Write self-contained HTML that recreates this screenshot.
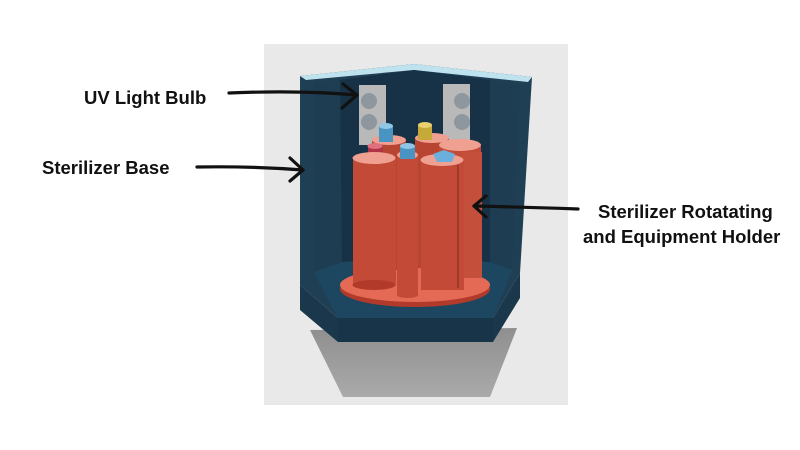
<!DOCTYPE html>
<html><head><meta charset="utf-8"><style>
html,body{margin:0;padding:0;background:#fff;width:800px;height:450px;overflow:hidden}
svg{display:block}
text{font-family:"Liberation Sans",sans-serif;font-weight:bold;fill:#111}
</style></head><body>
<svg width="800" height="450" viewBox="0 0 800 450">
<defs><linearGradient id="sh" x1="0" y1="0" x2="0" y2="1"><stop offset="0" stop-color="#8f8f8f"/><stop offset="1" stop-color="#aaaaaa"/></linearGradient></defs>
<rect x="264" y="44" width="304" height="361" fill="#e9e9e9"/>
<!-- shadow -->
<polygon points="310,330 517,328 490,397 343,397" fill="url(#sh)"/>
<!-- container outer -->
<polygon points="300,76 414,64 532,77 520,273 493,318 493,342 338,342 338,318 300,285" fill="#1f3f55"/>
<polygon points="338,318 493,318 493,342 338,342" fill="#183448"/>
<polygon points="300,285 338,318 338,342 300,310" fill="#1a374b"/>
<polygon points="493,318 520,273 520,298 493,342" fill="#1a374b"/>
<!-- top rim -->
<polygon points="300,76 414,64 532,77 528,82 414,70 306,80" fill="#bfe3ee"/>
<!-- inner walls -->
<polygon points="314,82 340,80 342,262 314,272" fill="#1e3d52"/>
<polygon points="340,80 414,70 414,255 342,262" fill="#173246"/>
<polygon points="414,70 490,80 490,262 414,255" fill="#173246"/>
<polygon points="490,80 520,84 512,270 490,262" fill="#1e3d52"/>
<!-- floor -->
<polygon points="314,272 342,262 490,262 512,270 493,318 338,318" fill="#1d4760"/>
<!-- UV panels -->
<rect x="359" y="85" width="27" height="60" fill="#b9b9b9"/>
<rect x="443" y="84" width="27" height="58" fill="#b9b9b9"/>
<circle cx="369" cy="101" r="8" fill="#8e979d"/><circle cx="369" cy="122" r="8" fill="#8e979d"/>
<circle cx="462" cy="101" r="8" fill="#8e979d"/><circle cx="462" cy="122" r="8" fill="#8e979d"/>
<!-- platform -->
<ellipse cx="415" cy="289" rx="75" ry="18" fill="#b23a2a"/>
<ellipse cx="415" cy="285" rx="75" ry="17" fill="#e46a55"/>
<!-- back cylinders -->
<rect x="372" y="140" width="34" height="130" fill="#b84532"/>
<ellipse cx="389" cy="140" rx="17" ry="5" fill="#f0a090"/>
<rect x="415" y="138" width="34" height="130" fill="#b84532"/>
<ellipse cx="432" cy="138" rx="17" ry="5" fill="#f0a090"/>
<rect x="439" y="145" width="42" height="130" fill="#c24a36"/>
<ellipse cx="460" cy="145" rx="21" ry="6" fill="#f0a090"/>
<rect x="462" y="152" width="20" height="126" fill="#c4503b"/>
<!-- small caps -->
<rect x="379" y="126" width="14" height="16" fill="#4a94c4"/><ellipse cx="386" cy="126" rx="7" ry="3" fill="#8fc6e6"/>
<rect x="418" y="125" width="14" height="15" fill="#c7a93a"/><ellipse cx="425" cy="125" rx="7" ry="3" fill="#e8d070"/>
<rect x="368" y="146" width="15" height="16" fill="#b03446"/><ellipse cx="375" cy="146" rx="7.5" ry="3" fill="#e07080"/>
<!-- big left -->
<rect x="353" y="158" width="43" height="127" fill="#c24a36"/>
<ellipse cx="374" cy="158" rx="21.5" ry="6" fill="#f0a090"/>
<ellipse cx="374" cy="285" rx="21.5" ry="5" fill="#b23a2a"/>
<!-- thin middle -->
<rect x="397" y="155" width="21" height="140" fill="#c24a36"/>
<ellipse cx="407.5" cy="295" rx="10.5" ry="3" fill="#c24a36"/>
<ellipse cx="407.5" cy="155" rx="10.5" ry="4" fill="#f0a090"/>
<rect x="400" y="146" width="15" height="13" fill="#4a94c4"/><ellipse cx="407.5" cy="146" rx="7.5" ry="3" fill="#8fc6e6"/>
<!-- big right -->
<rect x="421" y="160" width="43" height="130" fill="#c24a36"/>
<ellipse cx="442" cy="160" rx="21.5" ry="6" fill="#f0a090"/>
<polygon points="433,154 444,150 455,154 452,162 437,162" fill="#6bb0dc"/>
<line x1="458" y1="165" x2="458" y2="288" stroke="#7a2a1e" stroke-width="1"/>
<!-- arrows -->
<g stroke="#111" stroke-width="3.2" fill="none" stroke-linecap="round" stroke-linejoin="round">
<path d="M229,93 Q300,90 356,95"/><path d="M343,84 L357,95 L342,108"/>
<path d="M197,167 Q250,166 303,170"/><path d="M290,158 L303,170 L290,181"/>
<path d="M578,209 Q520,207 474,206"/><path d="M486,196 L474,206 L486,217"/>
</g>
<text x="84" y="104" font-size="18.5">UV Light Bulb</text>
<text x="42" y="174" font-size="18.5">Sterilizer Base</text>
<text x="598" y="218" font-size="18.5">Sterilizer Rotatating</text>
<text x="583" y="243" font-size="18.5">and Equipment Holder</text>
</svg>
</body></html>
